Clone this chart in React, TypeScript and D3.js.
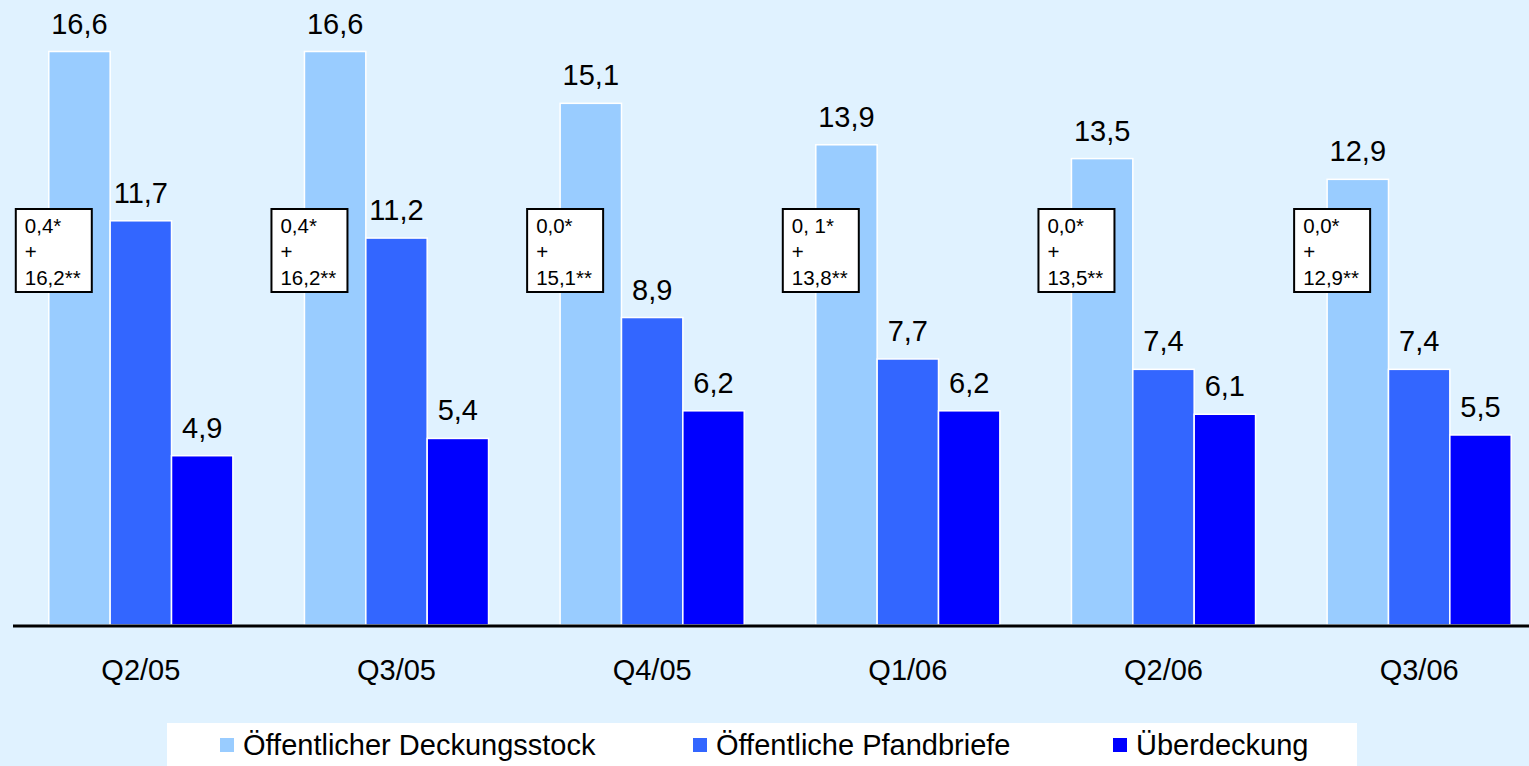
import React from "react";
import * as d3 from "d3";

const categories = ["Q2/05", "Q3/05", "Q4/05", "Q1/06", "Q2/06", "Q3/06"];
const seriesNames = ["Öffentlicher Deckungsstock", "Öffentliche Pfandbriefe", "Überdeckung"];
const deckungsstock = [16.6, 16.6, 15.1, 13.9, 13.5, 12.9];
const pfandbriefe = [11.7, 11.2, 8.9, 7.7, 7.4, 7.4];
const ueberdeckung = [4.9, 5.4, 6.2, 6.2, 6.1, 5.5];
const boxLine1 = ["0,4*", "0,4*", "0,0*", "0, 1*", "0,0*", "0,0*"];
const boxLine3 = ["16,2**", "16,2**", "15,1**", "13,8**", "13,5**", "12,9**"];
const colors = ["#99CCFF", "#3366FF", "#0000FF"];

const W = 1529;
const H = 766;
const FONT = "'Liberation Sans', Arial, sans-serif";

export default function App() {
  const series = [deckungsstock, pfandbriefe, ueberdeckung];
  const baseY = 625;
  const y = d3.scaleLinear().domain([0, 16.6]).range([baseY, 51.5]);
  const x0 = d3.scaleBand<string>().domain(categories).range([13, 1547]).paddingInner(0.28).paddingOuter(0.14);
  const x1 = d3.scaleBand<number>().domain([0, 1, 2]).range([0, x0.bandwidth()]).padding(0);
  const fmt = (v: number) => v.toFixed(1).replace(".", ",");

  const legendX = [220, 693, 1113];

  return (
    <svg width={W} height={H} style={{ position: "absolute", left: 0, top: 0, display: "block" }} fontFamily={FONT}>
      <rect x={0} y={0} width={W} height={H} fill="#E0F2FF" />
      {categories.map((c, i) => {
        const gx = x0(c)!;
        return (
          <g key={c}>
            {series.map((s, k) => {
              const bx = gx + x1(k)!;
              const bw = x1.bandwidth();
              return (
                <g key={k}>
                  <rect x={bx} y={y(s[i])} width={bw} height={baseY - y(s[i])} fill={colors[k]} stroke="#FFFFFF" strokeWidth={1.5} />
                  <text x={bx + bw / 2} y={y(s[i]) - 18} textAnchor="middle" fontSize={29} fill="#000">
                    {fmt(s[i])}
                  </text>
                </g>
              );
            })}
            <text x={gx + x0.bandwidth() / 2} y={680} textAnchor="middle" fontSize={29} fill="#000">
              {c}
            </text>
            <g transform={`translate(${gx - 33},209)`}>
              <rect x={0} y={0} width={76} height={83} fill="#FFFFFF" stroke="#000" strokeWidth={2} />
              <text x={9} y={24} fontSize={20.5} fill="#000">{boxLine1[i]}</text>
              <text x={9} y={50} fontSize={20.5} fill="#000">+</text>
              <text x={9} y={76} fontSize={20.5} fill="#000">{boxLine3[i]}</text>
            </g>
          </g>
        );
      })}
      <line x1={13} x2={W} y1={626} y2={626} stroke="#000" strokeWidth={3} />
      <rect x={167} y={723} width={1190} height={43} fill="#FFFFFF" />
      {seriesNames.map((n, k) => (
        <g key={n}>
          <rect x={legendX[k]} y={738} width={14} height={14} fill={colors[k]} />
          <text x={legendX[k] + 23} y={755} fontSize={29} fill="#000">{n}</text>
        </g>
      ))}
    </svg>
  );
}
